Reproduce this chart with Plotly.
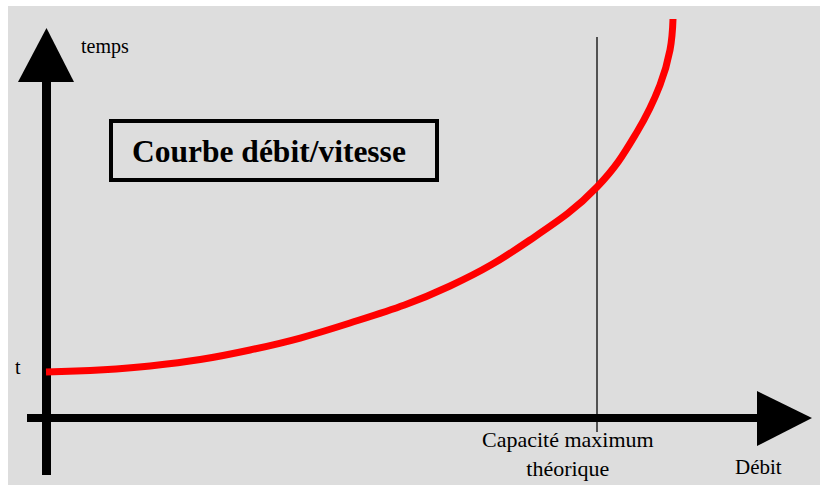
import plotly.graph_objects as go

# Data (arbitrary units, origin at the axes crossing)
debit = [0, 104, 204, 304, 404, 484, 551, 591, 614, 624, 627]
temps = [46, 52, 68, 95, 132, 178, 231, 286, 333, 368, 399]
capacite_max = 551
title_text = "Courbe débit/vitesse"
y_label = "temps"
x_label = "Débit"
t_label = "t"
cap_label = "Capacité maximum<br>théorique"

W, H = 820, 485


def X(px):
    return px / W


def Y(py):
    return 1 - py / H


FONT = "Liberation Serif, Times New Roman, serif"

fig = go.Figure()
fig.add_trace(go.Scatter(
    x=debit, y=temps, mode="lines",
    line=dict(color="#ff0000", width=7, shape="spline", smoothing=1.2),
    hoverinfo="skip", showlegend=False,
))

shapes = []
# gray background
shapes.append(dict(type="rect", xref="paper", yref="paper", layer="below",
                   x0=X(8), x1=X(820), y0=Y(485), y1=Y(6),
                   fillcolor="#dddddd", line=dict(width=0)))
# vertical capacity line
shapes.append(dict(type="line", xref="x", yref="paper", layer="below",
                   x0=capacite_max, x1=capacite_max, y0=Y(432), y1=Y(37),
                   line=dict(color="#222222", width=1.5)))
# vertical axis shaft
shapes.append(dict(type="rect", xref="paper", yref="paper", layer="below",
                   x0=X(42), x1=X(51), y0=Y(475), y1=Y(80),
                   fillcolor="black", line=dict(width=0)))
# vertical arrow head
shapes.append(dict(type="path", xref="paper", yref="paper", layer="below",
                   path=f"M {X(18)} {Y(82)} L {X(46.5)} {Y(28)} L {X(74)} {Y(82)} Z",
                   fillcolor="black", line=dict(width=0)))
# horizontal axis shaft
shapes.append(dict(type="rect", xref="paper", yref="paper", layer="below",
                   x0=X(27), x1=X(759), y0=Y(422), y1=Y(414),
                   fillcolor="black", line=dict(width=0)))
# horizontal arrow head
shapes.append(dict(type="path", xref="paper", yref="paper", layer="below",
                   path=f"M {X(757)} {Y(391)} L {X(812)} {Y(418)} L {X(757)} {Y(446)} Z",
                   fillcolor="black", line=dict(width=0)))
# title box
shapes.append(dict(type="rect", xref="paper", yref="paper", layer="below",
                   x0=X(111), x1=X(437), y0=Y(180), y1=Y(121),
                   fillcolor="rgba(0,0,0,0)", line=dict(color="black", width=4)))

annotations = [
    dict(text=f"<b>{title_text}</b>", x=X(268.5), y=Y(151), xref="paper", yref="paper",
         showarrow=False, xanchor="center", yanchor="middle",
         font=dict(family=FONT, size=31.5, color="black")),
    dict(text=y_label, x=X(79), y=Y(46), xref="paper", yref="paper",
         showarrow=False, xanchor="left", yanchor="middle",
         font=dict(family=FONT, size=20, color="black")),
    dict(text=t_label, x=X(17.5), y=Y(367), xref="paper", yref="paper",
         showarrow=False, xanchor="center", yanchor="middle",
         font=dict(family=FONT, size=20, color="black")),
    dict(text=cap_label, x=X(568), y=Y(454), xref="paper", yref="paper",
         showarrow=False, xanchor="center", yanchor="middle",
         font=dict(family=FONT, size=22, color="black")),
    dict(text=x_label, x=X(758), y=Y(467), xref="paper", yref="paper",
         showarrow=False, xanchor="center", yanchor="middle",
         font=dict(family=FONT, size=21, color="black")),
]

fig.update_layout(
    width=W, height=H, autosize=False,
    margin=dict(l=0, r=0, t=0, b=0, pad=0),
    paper_bgcolor="white", plot_bgcolor="rgba(0,0,0,0)",
    xaxis=dict(range=[-46, 774], visible=False, fixedrange=True),
    yaxis=dict(range=[-67, 418], visible=False, fixedrange=True),
    shapes=shapes, annotations=annotations, showlegend=False,
)
fig.write_html(
    "out.html",
    config={"displayModeBar": False},
    post_script="document.body.style.margin='0';document.body.style.overflow='hidden';",
)
